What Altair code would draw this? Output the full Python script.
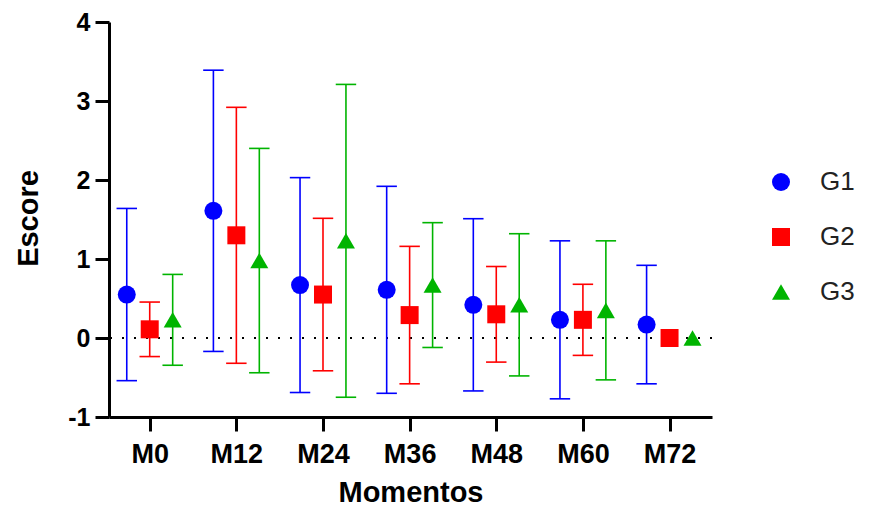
import altair as alt
import pandas as pd

moments = ["M0", "M12", "M24", "M36", "M48", "M60", "M72"]
groups = ["G1", "G2", "G3"]
colors = ["#0000FF", "#FF0000", "#00B400"]
shapes = ["circle", "square", "triangle-up"]

g1_mean = [0.55, 1.61, 0.67, 0.61, 0.42, 0.23, 0.17]
g1_sd = [1.09, 1.78, 1.36, 1.31, 1.09, 1.00, 0.75]
g2_mean = [0.11, 1.30, 0.55, 0.29, 0.30, 0.23, 0.00]
g2_sd = [0.345, 1.62, 0.965, 0.87, 0.605, 0.45, None]
g3_mean = [0.23, 0.98, 1.23, 0.67, 0.42, 0.35, 0.00]
g3_sd = [0.575, 1.42, 1.98, 0.79, 0.90, 0.88, None]

rows = []
for g, means, sds in zip(groups, [g1_mean, g2_mean, g3_mean], [g1_sd, g2_sd, g3_sd]):
    for i, (m, mu, sd) in enumerate(zip(moments, means, sds)):
        rows.append({"Momento": m, "idx": i, "Grupo": g, "mean": mu, "sd": sd})
df = pd.DataFrame(rows)

FONT = "Liberation Sans"
label_expr = "[" + ",".join("'%s'" % m for m in moments) + "][datum.value]"

xscale = alt.Scale(domain=[-0.47, 6.49], nice=False, zero=False)
yscale = alt.Scale(domain=[-1, 4], nice=False, zero=False)
color = alt.Color("Grupo:N", scale=alt.Scale(domain=groups, range=colors), title=None)
shape = alt.Shape("Grupo:N", scale=alt.Scale(domain=groups, range=shapes), title=None)

xaxis = alt.Axis(values=list(range(7)), labelExpr=label_expr, title="Momentos",
                 titleX=301.5, titleY=84, titleAlign="center", titleBaseline="alphabetic")
yaxis = alt.Axis(values=[-1, 0, 1, 2, 3, 4], labelExpr="'' + datum.value", title="Escore",
                 titleX=-72, titleY=196, titleAlign="center", titleBaseline="alphabetic",
                 titleAngle=270, labelFontSize=25)

base = alt.Chart(df).transform_calculate(
    xpos="datum.idx + (indexof(['G1','G2','G3'], datum.Grupo) - 1) * 0.265",
    lo="datum.mean - datum.sd",
    hi="datum.mean + datum.sd",
    cl="datum.xpos - 0.118",
    cr="datum.xpos + 0.118",
)

zero = alt.Chart(df).mark_rule(color="black", strokeDash=[2, 10], strokeWidth=2.2).encode(
    y=alt.datum(0, scale=yscale, axis=yaxis)
)

err = base.transform_filter("isValid(datum.sd)")
bars = err.mark_rule(strokeWidth=1.6).encode(
    x=alt.X("xpos:Q", scale=xscale, axis=xaxis),
    y=alt.Y("lo:Q", scale=yscale, axis=yaxis),
    y2="hi:Q",
    color=color,
)
cap_hi = err.mark_rule(strokeWidth=1.6).encode(
    x=alt.X("cl:Q", scale=xscale, axis=xaxis), x2="cr:Q",
    y=alt.Y("hi:Q", scale=yscale, axis=yaxis), color=color,
)
cap_lo = err.mark_rule(strokeWidth=1.6).encode(
    x=alt.X("cl:Q", scale=xscale, axis=xaxis), x2="cr:Q",
    y=alt.Y("lo:Q", scale=yscale, axis=yaxis), color=color,
)
points = base.mark_point(filled=True, size=324, opacity=1).encode(
    x=alt.X("xpos:Q", scale=xscale, axis=xaxis),
    y=alt.Y("mean:Q", scale=yscale, axis=yaxis),
    color=color,
    shape=shape,
)

chart = alt.layer(zero, bars, cap_hi, cap_lo, points).properties(
    width=603, height=395,
    autosize=alt.AutoSizeParams(type="none"),
    padding={"left": 101, "top": 14, "right": 150, "bottom": 91},
).configure_view(stroke=None).configure_axis(
    grid=False, domainColor="black", domainWidth=3, tickColor="black", tickWidth=3,
    tickSize=14, labelFont=FONT, labelFontSize=27, labelFontWeight="bold",
    labelColor="black", titleFont=FONT, titleFontSize=29, titleFontWeight="bold",
    titleColor="black",
).configure_axisX(labelPadding=10).configure_axisY(labelPadding=5).configure_legend(
    orient="none", legendX=659, legendY=147, padding=0, labelFont=FONT,
    labelFontSize=26, labelColor="#222222", symbolSize=324, rowPadding=29,
    labelOffset=26, symbolStrokeWidth=0,
)

chart.save("out.html", embed_options={"renderer": "svg", "actions": False})
